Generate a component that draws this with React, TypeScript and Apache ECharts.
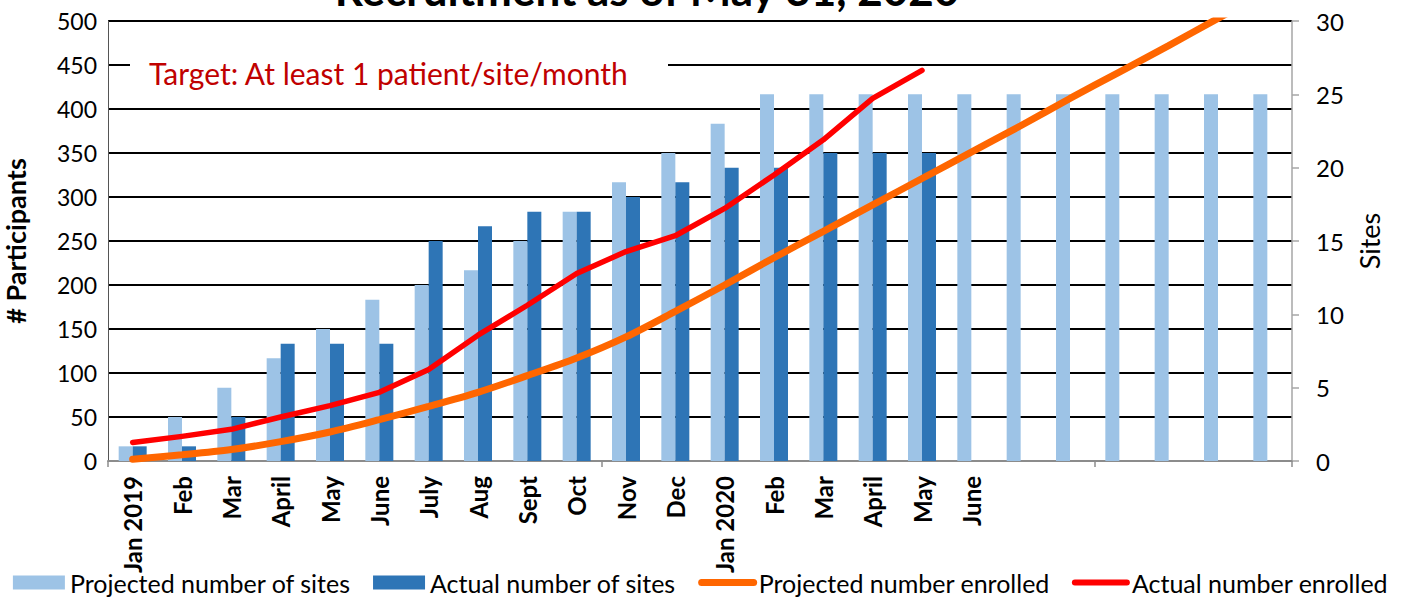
import React, { useEffect, useRef } from "react";
import * as echarts from "echarts";

const months: string[] = [
  "Jan 2019", "Feb", "Mar", "April", "May", "June", "July", "Aug", "Sept", "Oct", "Nov", "Dec",
  "Jan 2020", "Feb", "Mar", "April", "May", "June", "", "", "", "", "", "",
];

const projectedSites: number[] = [1, 3, 5, 7, 9, 11, 12, 13, 15, 17, 19, 21, 23, 25, 25, 25, 25, 25, 25, 25, 25, 25, 25, 25];
const actualSites: (number | null)[] = [1, 1, 3, 8, 8, 8, 15, 16, 17, 17, 18, 19, 20, 20, 21, 21, 21];

const projectedEnrolled: number[] = [2, 7, 13, 22, 33, 47, 62, 78, 97, 117, 141, 170, 200, 231, 261, 291, 321, 351, 381, 412, 442, 472, 503, 533];
const actualEnrolled: number[] = [21, 28, 36, 50, 63, 78, 104, 143, 177, 213, 238, 256, 287, 325, 365, 412, 444];

const titleText = "Recruitment as of May 31, 2020";
const noteText = "Target: At least 1 patient/site/month";

const FONT = "Lato";

export default function App() {
  const ref = useRef<HTMLDivElement>(null);
  useEffect(() => {
    if (!ref.current) return;
    const chart = echarts.init(ref.current, undefined, { renderer: "svg" });
    chart.setOption({
      animation: false,
      textStyle: { fontFamily: FONT },
      grid: {
        left: 108,
        right: 109,
        top: 21,
        bottom: 140,
        containLabel: false,
        outerBoundsMode: "none",
      },
      legend: {
        bottom: 1,
        left: "center",
        itemWidth: 52,
        itemHeight: 14,
        itemGap: 22,
        textStyle: { fontSize: 25, color: "#000", fontFamily: FONT },
        data: [
          { name: "Projected number of sites", icon: "rect" },
          { name: "Actual number of sites", icon: "rect" },
          {
            name: "Projected number enrolled",
            itemStyle: { opacity: 0 },
            lineStyle: { width: 7, cap: "round", color: "#FF6600" },
          },
          {
            name: "Actual number enrolled",
            itemStyle: { opacity: 0 },
            lineStyle: { width: 6, cap: "round", color: "#FF0000" },
          },
        ],
      },
      graphic: [
        {
          type: "text",
          x: 647,
          y: -11,
          z: 100,
          style: {
            text: titleText,
            fontSize: 44,
            fontWeight: "bold",
            fontFamily: FONT,
            fill: "#000",
            align: "center",
            verticalAlign: "middle",
          },
        },
        {
          type: "rect",
          z: 100,
          shape: { x: 130, y: 46, width: 538, height: 54 },
          style: { fill: "#fff" },
        },
        {
          type: "text",
          x: 149,
          y: 73,
          z: 101,
          style: {
            text: noteText,
            fontSize: 30,
            fontFamily: FONT,
            fill: "#C00000",
            align: "left",
            verticalAlign: "middle",
          },
        },
      ],
      xAxis: {
        type: "category",
        data: months,
        boundaryGap: true,
        axisLine: { show: true, lineStyle: { color: "#8c8c8c", width: 2 } },
        axisTick: {
          show: true,
          interval: (index: number) => index % 10 === 0,
          length: 6,
          lineStyle: { color: "#8c8c8c", width: 1.5 },
        },
        axisLabel: {
          interval: 0,
          rotate: 90,
          margin: 15,
          fontSize: 24,
          fontWeight: "bold",
          color: "#000",
          fontFamily: FONT,
        },
        splitLine: { show: false },
      },
      yAxis: [
        {
          type: "value",
          min: 0,
          max: 500,
          interval: 50,
          position: "left",
          name: "# Participants",
          nameLocation: "middle",
          nameGap: 79,
          nameTextStyle: { fontSize: 27, fontWeight: "bold", color: "#000", fontFamily: FONT },
          axisLine: { show: true, lineStyle: { color: "#555", width: 1 } },
          axisTick: { show: false },
          axisLabel: { fontSize: 23, color: "#000", margin: 11, fontFamily: FONT },
          splitLine: { show: true, lineStyle: { color: "#000", width: 2 } },
        },
        {
          type: "value",
          min: 0,
          max: 30,
          interval: 5,
          position: "right",
          name: "Sites",
          nameLocation: "middle",
          nameGap: 64,
          nameTextStyle: { fontSize: 27, color: "#000", fontFamily: FONT },
          axisLine: { show: true, lineStyle: { color: "#a6a6a6", width: 1.5 } },
          axisTick: { show: true, inside: false, length: 7, lineStyle: { color: "#a6a6a6", width: 1.5 } },
          axisLabel: { fontSize: 24, color: "#000", margin: 24, fontFamily: FONT },
          splitLine: { show: false },
        },
      ],
      series: [
        {
          name: "Projected number of sites",
          type: "bar",
          yAxisIndex: 1,
          data: projectedSites,
          barWidth: 14,
          barGap: "0%",
          itemStyle: { color: "#9DC3E6" },
        },
        {
          name: "Actual number of sites",
          type: "bar",
          yAxisIndex: 1,
          data: actualSites,
          barWidth: 14,
          barGap: "0%",
          itemStyle: { color: "#2E75B6" },
        },
        {
          name: "Projected number enrolled",
          type: "line",
          yAxisIndex: 0,
          data: projectedEnrolled,
          symbol: "none",
          smooth: 0.3,
          clip: true,
          itemStyle: { color: "#FF6600" },
          lineStyle: { color: "#FF6600", width: 7, cap: "round" },
          z: 3,
        },
        {
          name: "Actual number enrolled",
          type: "line",
          yAxisIndex: 0,
          data: actualEnrolled,
          symbol: "none",
          smooth: false,
          itemStyle: { color: "#FF0000" },
          lineStyle: { color: "#FF0000", width: 5.5, cap: "round", join: "round" },
          z: 4,
        },
      ],
    });
    return () => chart.dispose();
  }, []);
  return (
    <div
      ref={ref}
      style={{ position: "absolute", left: 0, top: 0, width: 1401, height: 601, background: "#fff" }}
    />
  );
}
